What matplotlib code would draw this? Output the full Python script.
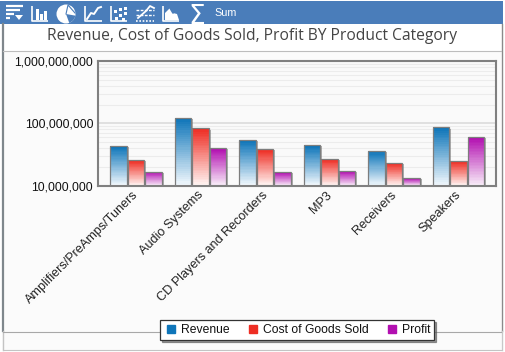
import matplotlib
matplotlib.use('Agg')
import matplotlib.pyplot as plt
import matplotlib.patheffects as pe
from matplotlib.patches import Rectangle, Circle, Wedge, Polygon
from matplotlib.ticker import FuncFormatter, NullFormatter, LogLocator
from matplotlib.transforms import ScaledTranslation
from matplotlib.lines import Line2D
import numpy as np

categories = ['Amplifiers/PreAmps/Tuners', 'Audio Systems', 'CD Players and Recorders',
              'MP3', 'Receivers', 'Speakers']
revenue = [42.8e6, 123e6, 53.4e6, 44.4e6, 35.6e6, 86e6]
cost = [25.5e6, 83e6, 38.3e6, 26.5e6, 22.9e6, 24.6e6]
profit = [16.8e6, 39.8e6, 16.4e6, 17e6, 13.1e6, 59.7e6]
series_names = ['Revenue', 'Cost of Goods Sold', 'Profit']
top_colors = ['#0e75b9', '#ee2e24', '#b20fb0']
low_colors = ['#f0f7fc', '#fff4f2', '#f8ecf8']
title = 'Revenue, Cost of Goods Sold, Profit BY Product Category'

W, H = 505, 352
plt.rcParams['font.family'] = ['Liberation Sans', 'DejaVu Sans']
fig = plt.figure(figsize=(W / 100, H / 100), dpi=100, facecolor='white')

# window chrome, in pixel coordinates
bg = fig.add_axes([0, 0, 1, 1], zorder=-1)
bg.set_xlim(0, W)
bg.set_ylim(H, 0)
bg.axis('off')
bg.add_patch(Rectangle((2, 51), 499, 299, fc='#fbfbfb', ec='none'))
bg.add_patch(Rectangle((0, 1), 503, 23, fc='#4a7dba', ec='none'))
bg.plot([2.5, 2.5], [24, 331], color='#7f878c', lw=1.6)
bg.plot([2.5, 2.5], [331, 350], color='#c4c4c4', lw=1)
bg.plot([501.5, 501.5], [24, 331], color='#8a8a8a', lw=1)
bg.plot([501.5, 501.5], [331, 350], color='#c8c8c8', lw=1)
bg.plot([3, 501], [51, 51], color='#bdbdbd', lw=0.8)
bg.plot([3, 501], [331.5, 331.5], color='#a8a8a8', lw=0.8)
bg.plot([3, 501], [350, 350], color='#c4c4c4', lw=0.8)

# toolbar icons
ic = dict(color='white', lw=1.2, solid_capstyle='butt')
for y, x2 in zip([6, 10, 14, 18], [23, 20, 14, 10]):
    bg.plot([6, x2], [y, y], color='white', lw=1.6, solid_capstyle='butt')
bg.add_patch(Polygon([[15, 15], [23, 15], [19, 20]], fc='white'))
bg.plot([32, 32, 48], [6, 21, 21], **ic)
for x, y in zip([36, 40, 44], [9, 14, 11]):
    bg.add_patch(Rectangle((x, y), 2.5, 20 - y, fc='white', ec='none'))
bg.add_patch(Circle((66, 14), 9.5, fc='white', ec='none'))
bg.add_patch(Wedge((66, 14), 9.5, 10, 70, fc='#4a7dba', ec='none'))
bg.plot([66, 68, 75], [14, 5, 13], color='#4a7dba', lw=0.8)
bg.plot([85, 85, 102], [6, 21, 21], **ic)
bg.plot([87, 91, 94, 98, 101], [19, 13, 14, 8, 7], color='white', lw=1.4)
bg.plot([111, 111, 127], [6, 21, 21], **ic)
for x, y in [(114, 10), (119, 8), (124, 7), (115, 17), (119, 14), (124, 12), (122, 18)]:
    bg.add_patch(Rectangle((x, y), 2.5, 2.5, fc='white', ec='none'))
bg.plot([136, 154], [10, 10], color='white', lw=1, ls=(0, (2, 1)))
bg.plot([136, 154], [15, 15], color='white', lw=1, ls=(0, (2, 1)))
bg.plot([136, 154], [21, 21], color='white', lw=1.2, ls=(0, (1, 1)))
bg.plot([138, 146, 150, 154], [18, 11, 6, 8], color='white', lw=1.3)
bg.plot([163, 163, 179], [6, 21, 21], **ic)
bg.add_patch(Polygon([[165, 20], [165, 13], [170, 8], [173, 13], [177, 14], [179, 20]], fc='white'))
bg.plot([170, 173, 176], [8, 13, 9], color='#4a7dba', lw=1.2)
bg.text(197, 17.5, '\u03a3', color='white', fontsize=19, ha='center', va='center', family='DejaVu Sans')
bg.text(214, 13.5, 'Sum', color='white', fontsize=7.8, ha='left', va='center')
bg.text(252.5, 36.5, title, color='#444444', fontsize=11.23, ha='center', va='center', family='Open Sans')

# chart
ax = fig.add_axes([98 / W, 1 - 185.7 / H, 398 / W, 124.7 / H])
ax.set_facecolor('#fafafa')
ax.set_yscale('log')
ax.set_ylim(10e6, 1000e6)
ax.set_xlim(-0.589, 5.58)
ax.yaxis.set_major_locator(LogLocator(base=10))
ax.yaxis.set_minor_locator(LogLocator(base=10, subs=np.arange(2, 10)))
ax.yaxis.set_major_formatter(FuncFormatter(lambda v, p: f'{v:,.0f}'))
ax.yaxis.set_minor_formatter(NullFormatter())
ax.grid(True, which='major', axis='y', color='#dedede', lw=1.3)
ax.grid(True, which='minor', axis='y', color='#ececec', lw=0.8)
ax.set_axisbelow(True)
ax.tick_params(axis='y', which='both', length=0, pad=3.5, labelsize=8.8, labelcolor='#111111')
for s in ax.spines.values():
    s.set_color('#808080')
    s.set_linewidth(1.5)
    s.set_zorder(6)

x = np.arange(len(categories))
ax.set_xticks(x)
ax.set_xticklabels(categories, rotation=45, ha='right', va='top', rotation_mode='anchor',
                   fontsize=9.05, color='#222222')
ax.tick_params(axis='x', length=0, pad=2.5)
# the labels end a little left of the group centre
shift = ScaledTranslation(-3.5 / 100, 0, fig.dpi_scale_trans)
for lab in ax.get_xticklabels():
    lab.set_transform(lab.get_transform() + shift)

width = 0.256
for i, vals in enumerate([revenue, cost, profit]):
    top = np.array(matplotlib.colors.to_rgb(top_colors[i]))
    low = np.array(matplotlib.colors.to_rgb(low_colors[i]))
    xs = x + (i - 1) * 0.27
    heights = np.array(vals) - 10e6
    ax.bar(xs, heights, width, bottom=10e6, color='white', edgecolor='none', zorder=2,
           path_effects=[pe.SimplePatchShadow(offset=(1.4, -0.8), alpha=0.45, shadow_rgbFace='#555555'), pe.Normal()])
    for xi, v in zip(xs, vals):
        ys = np.geomspace(10e6, v, 33)
        t = np.linspace(0, 1, 32)[:, None]
        rgb = (low * (1 - t) + top * t)[:, None, :]
        ax.pcolormesh([xi - width / 2, xi + width / 2], ys, rgb, zorder=3, antialiased=False)
    ax.bar(xs, heights, width, bottom=10e6, fill=False, edgecolor='#7d7d7d', lw=0.9, zorder=4)

handles = [Line2D([], [], marker='s', ls='none', color=c, markersize=6.2) for c in top_colors]
leg = fig.legend(handles, series_names, ncol=3, loc='center', bbox_to_anchor=(297 / W, 1 - 330 / H),
                 frameon=True, fancybox=False, shadow={'ox': 1.5, 'oy': -1.5, 'color': '#555555', 'alpha': 0.6},
                 edgecolor='#333333', facecolor='white', framealpha=1, fontsize=8.7,
                 handlelength=1.2, handletextpad=0.25, columnspacing=1.32, borderpad=0.3,
                 labelcolor='#111111')
leg.get_frame().set_linewidth(0.9)

fig.savefig('out.png', dpi=100)
